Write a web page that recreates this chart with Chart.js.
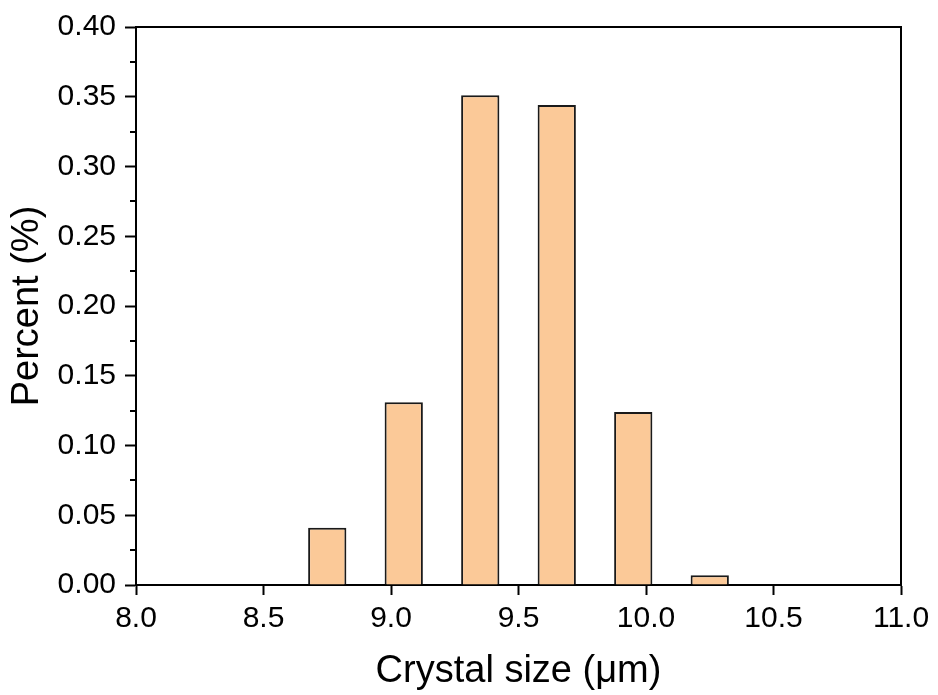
<!DOCTYPE html>
<html>
<head>
<meta charset="utf-8">
<script src="https://cdn.jsdelivr.net/npm/chart.js@4/dist/chart.umd.min.js"></script>
<style>
html,body{margin:0;padding:0;background:#fff;}
#wrap{width:938px;height:695px;}
</style>
</head>
<body>
<div id="wrap"><canvas id="c" width="938" height="695"></canvas></div>
<script>
// Data
const binCenters = [8.75, 9.05, 9.35, 9.65, 9.95, 10.25];
const percentValues = [0.041, 0.131, 0.351, 0.344, 0.124, 0.007];
const xTickValues = [8.0, 8.5, 9.0, 9.5, 10.0, 10.5, 11.0];
const yTickValues = [0.00, 0.05, 0.10, 0.15, 0.20, 0.25, 0.30, 0.35, 0.40];
const xTitle = 'Crystal size (\u03BCm)';
const yTitle = 'Percent (%)';

const FONT = '"Liberation Sans", Arial, Helvetica, sans-serif';

const framePlugin = {
  id: 'frame',
  afterDraw(chart) {
    const {ctx, chartArea: a, scales} = chart;
    ctx.save();
    ctx.strokeStyle = '#000';
    ctx.lineWidth = 2;
    ctx.beginPath();
    ctx.moveTo(a.left, a.top);
    ctx.lineTo(a.right, a.top);
    ctx.lineTo(a.right, a.bottom);
    ctx.stroke();
    // minor ticks on y axis at midpoints between major ticks
    const y = scales.y;
    for (let i = 0; i < yTickValues.length - 1; i++) {
      const v = (yTickValues[i] + yTickValues[i + 1]) / 2;
      const py = Math.round(y.getPixelForValue(v));
      ctx.beginPath();
      ctx.moveTo(a.left - 6, py);
      ctx.lineTo(a.left, py);
      ctx.stroke();
    }
    ctx.restore();
  }
};

new Chart(document.getElementById('c'), {
  type: 'bar',
  data: {
    datasets: [{
      data: binCenters.map((x, i) => ({x: x, y: percentValues[i]})),
      backgroundColor: '#FBC998',
      borderColor: '#1a1a1a',
      borderWidth: 2,
      categoryPercentage: 1.0,
      barPercentage: 0.5
    }]
  },
  options: {
    responsive: false,
    animation: false,
    layout: {padding: {top: 25, right: 37, left: 0, bottom: 0}},
    plugins: {legend: {display: false}, tooltip: {enabled: false}},
    scales: {
      x: {
        type: 'linear',
        min: 8, max: 11,
        offset: false,
        afterFit(s) { s.height = 110; },
        afterBuildTicks(s) { s.ticks = xTickValues.map(v => ({value: v})); },
        ticks: {
          color: '#000',
          font: {family: FONT, size: 30},
          padding: 6,
          maxRotation: 0,
          autoSkip: false,
          callback: v => Number(v).toFixed(1)
        },
        grid: {display: true, offset: false, drawOnChartArea: false, drawTicks: true, tickLength: 10, tickWidth: 2, tickColor: '#000'},
        border: {display: true, color: '#000', width: 2},
        title: {display: true, text: xTitle, color: '#000', font: {family: FONT, size: 38}, padding: {top: 0, bottom: 1}}
      },
      y: {
        min: 0, max: 0.4,
        afterFit(s) { s.width = 136; },
        afterBuildTicks(s) { s.ticks = yTickValues.map(v => ({value: v})); },
        ticks: {
          color: '#000',
          font: {family: FONT, size: 30},
          padding: 9,
          autoSkip: false,
          callback: v => Number(v).toFixed(2)
        },
        grid: {display: true, offset: false, drawOnChartArea: false, drawTicks: true, tickLength: 11, tickWidth: 2, tickColor: '#000'},
        border: {display: true, color: '#000', width: 2},
        title: {display: true, text: yTitle, color: '#000', font: {family: FONT, size: 38}, padding: {top: 5, bottom: 0}}
      }
    }
  },
  plugins: [framePlugin]
});
</script>
</body>
</html>
